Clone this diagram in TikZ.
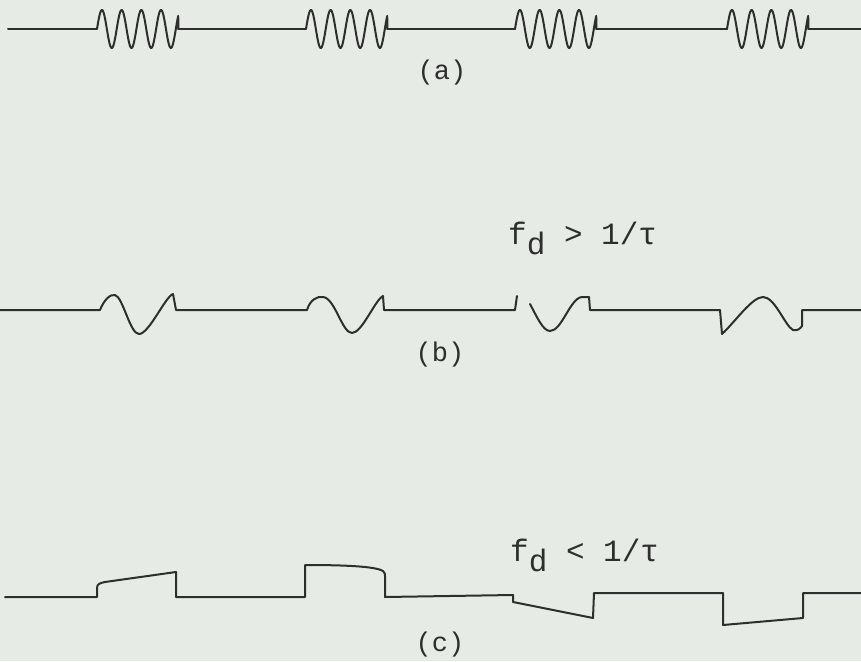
\documentclass[tikz,border=0pt]{standalone}
\usepackage{fontspec}
\setmonofont{Liberation Mono}
\definecolor{bgc}{HTML}{E6ECE5}
\definecolor{ink}{HTML}{2E2E2E}
\tikzset{
  wave/.style={draw=ink, line width=2pt, line join=round, line cap=round},
  lab/.style={text=ink, inner sep=0pt, font=\ttfamily\fontsize{27}{30}\selectfont},
  cond/.style={text=ink, inner sep=0pt, anchor=base west, font=\ttfamily\fontsize{31}{34}\selectfont}
}
\begin{document}
\begin{tikzpicture}[x=1pt,y=-1pt]
\fill[bgc] (0,0) rectangle (861,661);
\useasboundingbox (0,0) rectangle (861,661);
% ---------- (a) ----------
\draw[wave] (8,29) -- (97,29);
\draw[wave] (178,29) -- (306,29);
\draw[wave] (387,29) -- (515,29);
\draw[wave] (596,29) -- (727,29);
\draw[wave] (808,29) -- (861,29);
\foreach \xo in {97,306,515,727}{
  \draw[wave] plot[domain=0:81.2, samples=160, smooth] ({\xo+\x},{29-19*sin(18.27*\x)}) -- ({\xo+81.5},29);
}
\node[lab] (la) at (442,73) {(a)};
% ---------- (b) ----------
\node[cond] (lb) at (508,244) {f\raisebox{-10pt}{d} > 1/τ};
\draw[wave] (0,310) -- (100,310)
  .. controls (104,300) and (110,294) .. (115,295)
  .. controls (123,297) and (130,334) .. (139,334)
  .. controls (149,334) and (165,297) .. (173,294)
  -- (176,310) -- (307,310)
  .. controls (310,300) and (317,296) .. (323,297)
  .. controls (335,298) and (342,333) .. (352,333)
  .. controls (362,333) and (375,300) .. (383,296)
  -- (384,310) -- (515,310) -- (517,296);
\draw[wave] (530,304)
  .. controls (537,317) and (543,331) .. (550,331)
  .. controls (562,331) and (570,298) .. (582,297)
  -- (589,297) -- (590,310) -- (720,310) -- (722,334)
  .. controls (735,322) and (752,297) .. (763,297)
  .. controls (775,297) and (785,326) .. (793,330)
  .. controls (797,331) and (800,329) .. (802,326)
  -- (802,310) -- (861,310);
\node[lab] (lbb) at (440,355) {(b)};
% ---------- (c) ----------
\node[cond] (lc) at (510,561) {f\raisebox{-10pt}{d} < 1/τ};
\draw[wave] (5,597) -- (97,597) -- (97,588)
  .. controls (97,584) and (100,583) .. (105,582)
  -- (176,572) -- (176,597) -- (305,597) -- (305,565)
  .. controls (340,565) and (375,566) .. (383,571)
  .. controls (385,573) and (385,574) .. (385,576)
  -- (385,597) -- (513,595) -- (513,602) -- (593,618)
  -- (594,593) -- (723,593) -- (723,625) -- (803,618)
  -- (803,593) -- (861,593);
\node[lab] (lcc) at (440,645) {(c)};
\end{tikzpicture}
\end{document}
